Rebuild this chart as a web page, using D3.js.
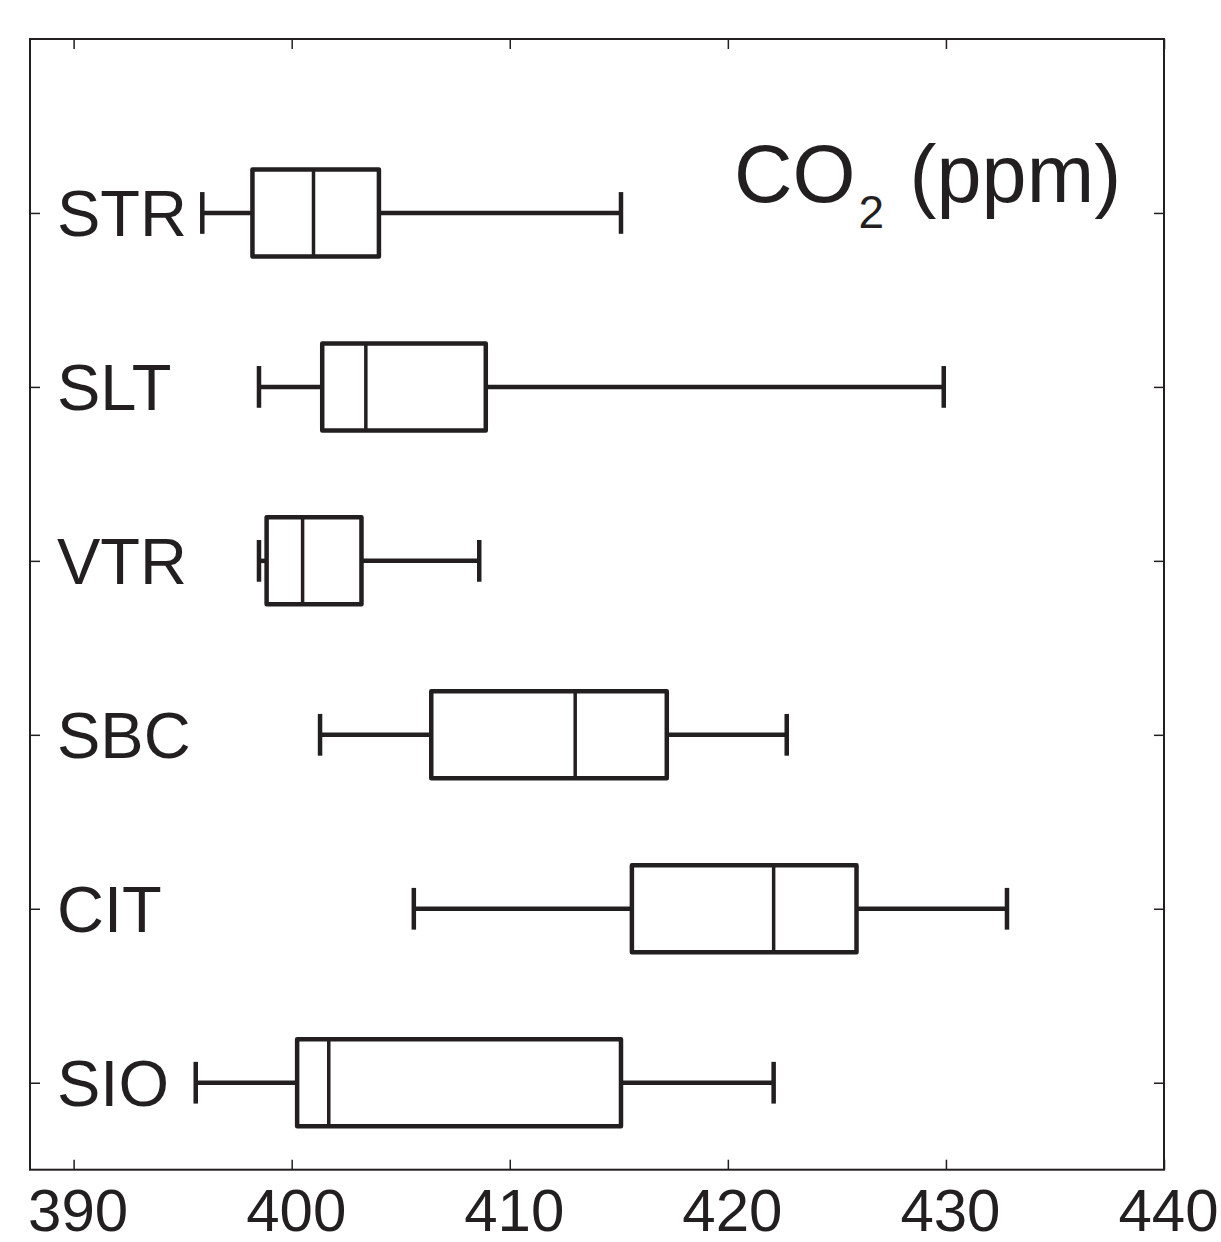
<!DOCTYPE html>
<html>
<head>
<meta charset="utf-8">
<script src="https://cdn.jsdelivr.net/npm/d3@7"></script>
<style>
  html, body { margin: 0; padding: 0; background: #fff; }
  svg text { font-family: Arial, "Liberation Sans", sans-serif; fill: #231f20; }
</style>
</head>
<body>
<svg id="chart" width="1221" height="1242"></svg>
<script>
// sites, bottom to top on the y axis
var sites = ['SIO', 'CIT', 'SBC', 'VTR', 'SLT', 'STR'];
var whiskerLow = [395.6, 405.6, 401.3, 398.5, 398.5, 395.9];
var q1 = [400.25, 415.6, 406.4, 398.85, 401.4, 398.2];
var median = [401.7, 422.1, 413.0, 400.5, 403.4, 401.0];
var q3 = [415.1, 425.9, 417.2, 403.2, 408.9, 404.0];
var whiskerHigh = [422.1, 432.8, 422.7, 408.6, 429.9, 415.1];
var xTicks = [390, 400, 410, 420, 430, 440];

(function () {
  var ink = '#231f20';

  var svg = d3.select('#chart');
  var plotLeft = 30, plotRight = 1164, plotTop = 39, plotBottom = 1169.7;

  var x = d3.scaleLinear().domain([388, 440]).range([plotLeft, plotRight]);
  var y = d3.scaleLinear().domain([0.5, 7]).range([plotBottom, plotTop]);

  var rows = sites.map(function (s, i) {
    return { name: s, pos: i + 1, lo: whiskerLow[i], q1: q1[i], med: median[i], q3: q3[i], hi: whiskerHigh[i] };
  });

  var boxHalf = 0.25, capHalf = 0.12;

  // axes (ticks inside, mirrored)
  var tickLen = 10;
  var positions = rows.map(function (d) { return d.pos; });
  var bottomAxis = d3.axisBottom(x).tickValues(xTicks).tickSize(-tickLen).tickPadding(18).tickFormat(d3.format('d'));
  var topAxis = d3.axisTop(x).tickValues(xTicks).tickSize(-tickLen).tickFormat('');
  var leftAxis = d3.axisLeft(y).tickValues(positions).tickSize(-tickLen).tickFormat('');
  var rightAxis = d3.axisRight(y).tickValues(positions).tickSize(-tickLen).tickFormat('');

  function styleAxis(g) {
    g.select('.domain').remove();
    g.selectAll('.tick line').attr('stroke', ink).attr('stroke-width', 1.5);
  }

  var xg = svg.append('g').attr('transform', 'translate(0,' + plotBottom + ')').call(bottomAxis).call(styleAxis);
  xg.selectAll('.tick text')
    .attr('font-size', 60).attr('dx', 4).attr('dy', '0.72em')
    .attr('font-family', 'Arial, "Liberation Sans", sans-serif').attr('fill', ink);
  svg.append('g').attr('transform', 'translate(0,' + plotTop + ')').call(topAxis).call(styleAxis);
  svg.append('g').attr('transform', 'translate(' + plotLeft + ',0)').call(leftAxis).call(styleAxis);
  svg.append('g').attr('transform', 'translate(' + plotRight + ',0)').call(rightAxis).call(styleAxis);

  // frame
  svg.append('rect')
    .attr('x', plotLeft).attr('y', plotTop)
    .attr('width', plotRight - plotLeft).attr('height', plotBottom - plotTop)
    .attr('fill', 'none').attr('stroke', ink).attr('stroke-width', 2);

  // boxplots
  var box = svg.selectAll('.box').data(rows).enter().append('g').attr('class', 'box')
    .attr('stroke', ink).attr('stroke-width', 4.5).attr('fill', 'none');

  box.append('line')
    .attr('x1', function (d) { return x(d.lo); }).attr('x2', function (d) { return x(d.q1); })
    .attr('y1', function (d) { return y(d.pos); }).attr('y2', function (d) { return y(d.pos); });
  box.append('line')
    .attr('x1', function (d) { return x(d.q3); }).attr('x2', function (d) { return x(d.hi); })
    .attr('y1', function (d) { return y(d.pos); }).attr('y2', function (d) { return y(d.pos); });
  box.append('line')
    .attr('x1', function (d) { return x(d.lo); }).attr('x2', function (d) { return x(d.lo); })
    .attr('y1', function (d) { return y(d.pos + capHalf); }).attr('y2', function (d) { return y(d.pos - capHalf); });
  box.append('line')
    .attr('x1', function (d) { return x(d.hi); }).attr('x2', function (d) { return x(d.hi); })
    .attr('y1', function (d) { return y(d.pos + capHalf); }).attr('y2', function (d) { return y(d.pos - capHalf); });
  box.append('rect')
    .attr('x', function (d) { return x(d.q1); })
    .attr('y', function (d) { return y(d.pos + boxHalf); })
    .attr('width', function (d) { return x(d.q3) - x(d.q1); })
    .attr('height', function (d) { return y(d.pos - boxHalf) - y(d.pos + boxHalf); })
    .attr('stroke-linejoin', 'round');
  box.append('line')
    .attr('stroke-width', 3.5)
    .attr('x1', function (d) { return x(d.med); }).attr('x2', function (d) { return x(d.med); })
    .attr('y1', function (d) { return y(d.pos + boxHalf); }).attr('y2', function (d) { return y(d.pos - boxHalf); });

  // site labels inside the axes
  svg.selectAll('.site').data(rows).enter().append('text').attr('class', 'site')
    .attr('x', 57)
    .attr('y', function (d) { return y(d.pos); })
    .attr('dy', '0.36em')
    .attr('font-size', 65)
    .text(function (d) { return d.name; });

  // title
  var title = svg.append('text').attr('x', 734).attr('y', 202).attr('font-size', 81);
  title.append('tspan').text('CO');
  title.append('tspan').attr('font-size', 46).attr('dy', 26).attr('dx', 3).text('2');
  title.append('tspan').attr('dy', -26).attr('dx', 3).text(' (ppm)');
})();
</script>
</body>
</html>
